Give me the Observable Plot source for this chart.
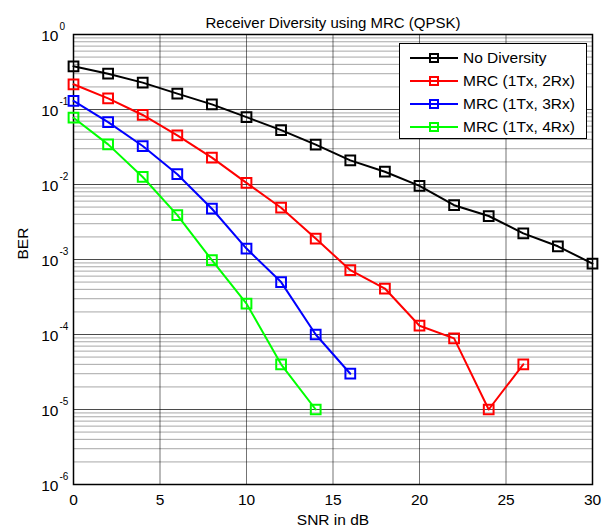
<!DOCTYPE html>
<html>
<head>
<meta charset="utf-8">
<script src="https://cdn.jsdelivr.net/npm/d3@7"></script>
<script src="https://cdn.jsdelivr.net/npm/@observablehq/plot@0.6"></script>
<style>
  body { margin: 0; background: #fff; font-family: "Liberation Sans", Arial, sans-serif; }
  #wrap { position: relative; width: 613px; height: 530px; }
  #legend { position: absolute; left: 399px; top: 43px; width: 188px; height: 96px; background: #fff; border: 1px solid #000; box-sizing: border-box; font-size: 15.5px; }
  .row { position: absolute; left: 0; height: 20px; display: flex; align-items: center; }
  .row svg { margin-left: 10px; margin-right: 5px; }
</style>
</head>
<body>
<div id="wrap"></div>
<script>
const snr = [0, 2, 4, 6, 8, 10, 12, 14, 16, 18, 20, 22, 24, 26, 28, 30];
const seriesNames = ["No Diversity", "MRC (1Tx, 2Rx)", "MRC (1Tx, 3Rx)", "MRC (1Tx, 4Rx)"];
const seriesColors = ["#000000", "#ff0000", "#0000ff", "#00ff00"];
const berNoDiversity = [0.377, 0.30, 0.228, 0.163, 0.117, 0.079, 0.053, 0.034, 0.021, 0.0148, 0.0096, 0.0053, 0.0038, 0.00223, 0.0015, 0.00088];
const berMrc2 = [0.217, 0.141, 0.0845, 0.0453, 0.0228, 0.0105, 0.0049, 0.0019, 0.00072, 0.00041, 0.000131, 0.0000889, 0.00001, 0.00004];
const berMrc3 = [0.13, 0.068, 0.0326, 0.0137, 0.00475, 0.0014, 0.0005, 0.0001, 0.00003];
const berMrc4 = [0.0778, 0.0343, 0.0126, 0.0039, 0.00098, 0.000258, 0.00004, 0.00001];
const xTicks = [0, 5, 10, 15, 20, 25, 30];
const yTicks = [1, 1e-1, 1e-2, 1e-3, 1e-4, 1e-5, 1e-6];
const yTickExponents = ["0", "-1", "-2", "-3", "-4", "-5", "-6"];

const allSeries = [berNoDiversity, berMrc2, berMrc3, berMrc4];
const data = allSeries.flatMap((vals, s) => vals.map((v, i) => ({series: seriesNames[s], snr: snr[i], ber: v})));
const yGrid = d3.scaleLog().domain([1e-6, 1]).ticks();

const font = "'Liberation Sans', Arial, sans-serif";
const chart = Plot.plot({
  width: 613,
  height: 530,
  marginLeft: 73,
  marginRight: 21,
  marginTop: 34,
  marginBottom: 46,
  style: {fontFamily: font, fontSize: "15.5px", background: "#fff", color: "#000"},
  x: {domain: [0, 30], ticks: xTicks, tickSize: 0, tickPadding: 9, label: "SNR in dB", labelAnchor: "center", labelOffset: 40, labelArrow: "none"},
  y: {type: "log", domain: [1e-6, 1], axis: null},
  color: {domain: seriesNames, range: seriesColors},
  marks: [
    Plot.ruleY(yGrid, {stroke: "#000", strokeOpacity: 0.35, strokeWidth: 1}),
    Plot.ruleY(yTicks, {stroke: "#000", strokeOpacity: 0.55, strokeWidth: 1}),
    Plot.ruleX(xTicks, {stroke: "#000", strokeOpacity: 0.55, strokeWidth: 1}),
    Plot.frame({stroke: "#000", strokeWidth: 1.5}),
    Plot.line(data, {x: "snr", y: "ber", z: "series", stroke: "series", strokeWidth: 2}),
    Plot.dot(data, {x: "snr", y: "ber", stroke: "series", symbol: "square", r: 5.5, strokeWidth: 2, fill: "none"}),
    Plot.text(yTicks, {y: d => d, frameAnchor: "left", dx: -15, dy: 2, textAnchor: "end", text: () => "10", fontSize: 15.5}),
    Plot.text(yTicks, {y: d => d, frameAnchor: "left", dx: -14, dy: -8, textAnchor: "start", text: (d, i) => yTickExponents[i], fontSize: 10}),
    Plot.text(["BER"], {frameAnchor: "left", dx: -50, rotate: -90, text: d => d, fontSize: 15.5}),
    Plot.text(["Receiver Diversity using MRC (QPSK)"], {frameAnchor: "top", dy: -17, text: d => d, fontSize: 15})
  ]
});

const wrap = document.getElementById("wrap");
wrap.appendChild(chart);
const legend = document.createElement("div");
legend.id = "legend";
seriesNames.forEach((name, i) => {
  const row = document.createElement("div");
  row.className = "row";
  row.style.top = (4 + i * 23) + "px";
  const c = seriesColors[i];
  row.innerHTML = `<svg width="48" height="14"><line x1="0" y1="7" x2="48" y2="7" stroke="${c}" stroke-width="2"/><rect x="20" y="3" width="8" height="8" fill="none" stroke="${c}" stroke-width="2"/></svg><span>${name}</span>`;
  legend.appendChild(row);
});
wrap.appendChild(legend);
</script>
</body>
</html>
